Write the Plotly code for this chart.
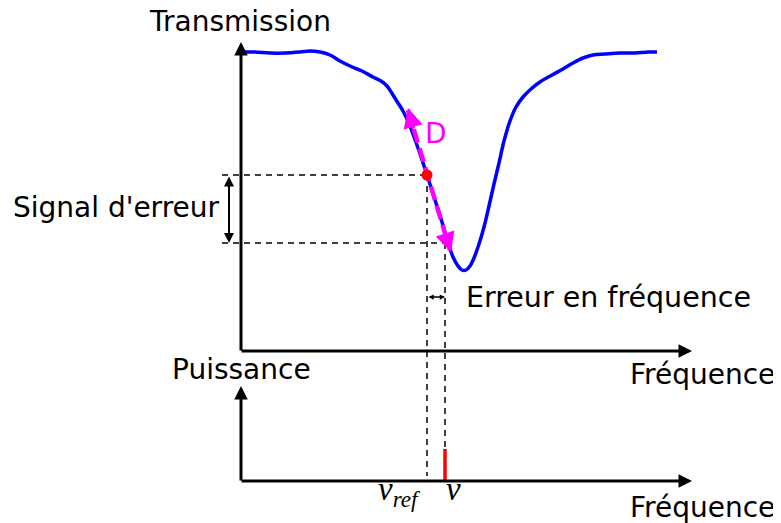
import plotly.graph_objects as go

# transmission curve (frequency, transmission), in drawing units (y grows downwards)
freq = [243, 255, 270, 285, 300, 310, 320, 330, 340, 350, 362, 373, 381, 387, 393,
        398, 403, 410, 418, 427, 435, 442, 448, 453, 458, 462, 466, 470, 474, 479,
        484, 489, 494, 499, 504, 510, 516, 523, 531, 540, 552, 563, 573, 583, 593,
        605, 620, 635, 648, 657]
trans = [52, 52, 53, 53, 52, 51, 52, 55, 61, 66, 71, 77, 81, 86, 95,
         103, 111, 126, 148, 175, 200, 222, 243, 257, 266, 270, 270, 266, 258, 244,
         227, 206, 184, 163, 141, 121, 107, 97, 89, 82, 75, 69, 63, 58, 55,
         54, 53, 53, 52, 52]

nu_ref = 427
nu = 445
sig_ref = 175
sig_nu = 243
slope_x = [408, 450]
slope_y = [110, 250]
power_top = 449

BLACK = "#000000"
FONT = "DejaVu Sans"

fig = go.Figure()

# dashed guides
dash = dict(color=BLACK, width=1.5, dash="6px,5px")
fig.add_trace(go.Scatter(x=[222, nu_ref], y=[sig_ref, sig_ref], mode="lines", line=dash))
fig.add_trace(go.Scatter(x=[222, nu], y=[sig_nu, sig_nu], mode="lines", line=dash))
fig.add_trace(go.Scatter(x=[nu_ref, nu_ref], y=[sig_ref, 476], mode="lines", line=dash))
fig.add_trace(go.Scatter(x=[nu, nu], y=[sig_nu, power_top], mode="lines", line=dash))

# curve
fig.add_trace(go.Scatter(x=freq, y=trans, mode="lines",
                         line=dict(color="#0000ff", width=3.5, shape="spline")))

# slope (magenta dashed)
fig.add_trace(go.Scatter(x=slope_x, y=slope_y, mode="lines",
                         line=dict(color="#ff00ff", width=4.5, dash="14px,6px")))

# working point
fig.add_trace(go.Scatter(x=[nu_ref], y=[sig_ref], mode="markers",
                         marker=dict(color="#ff0000", size=11)))

# laser line
fig.add_trace(go.Scatter(x=[nu, nu], y=[power_top, 481], mode="lines",
                         line=dict(color="#ff0000", width=3.5)))

ann = []


def arrow(x0, y0, x1, y1, width=3, size=1.0, side="end", color=BLACK):
    ann.append(dict(x=x1, y=y1, ax=x0, ay=y0, xref="x", yref="y", axref="x", ayref="y",
                    showarrow=True, arrowhead=2, arrowsize=size, arrowwidth=width,
                    arrowcolor=color, arrowside=side, text=""))


# axes
arrow(241, 352, 241, 42, size=0.9)
arrow(240, 351, 692, 351, size=0.9)
arrow(241, 482, 241, 386, size=0.9)
arrow(240, 481, 692, 481, size=0.9)

# slope arrowheads
arrow(414, 130, 408, 108, width=3, size=1.3, color="#ff00ff")
arrow(444, 230, 451, 252, width=3, size=1.3, color="#ff00ff")

# error signal and frequency error
arrow(229, sig_ref, 229, sig_nu, width=2, size=1.0, side="end+start")
arrow(nu_ref, 297, nu, 297, width=1.5, size=0.7, side="end+start")


def label(t, x, y, xa="center", color=BLACK, family=FONT, size=28):
    ann.append(dict(text=t, x=x, y=y, xref="x", yref="y", showarrow=False,
                    xanchor=xa, yanchor="middle",
                    font=dict(family=family, size=size, color=color)))


label("Transmission", 240, 21)
label("Signal d'erreur", 221, 207, xa="right")
label("Puissance", 241, 369)
label("Fréquence", 702, 374)
label("Fréquence", 702, 507)
label("Erreur en fréquence", 464, 297, xa="left", size=28.5)
label("D", 436, 133, color="#ff00ff")
label("<i>ν<sub>ref</sub></i>", 399, 491, family="Liberation Serif", size=33)
label("<i>ν</i>", 453, 489, family="Liberation Serif", size=33)

# the page puts the figure 8px in from the corner, so the ranges start at 8
fig.update_layout(
    width=773, height=515,
    margin=dict(l=0, r=0, t=0, b=0),
    paper_bgcolor="white", plot_bgcolor="white",
    showlegend=False,
    annotations=ann,
    xaxis=dict(range=[8, 781], visible=False),
    yaxis=dict(range=[523, 8], visible=False),
)

fig.write_html("out.html")
